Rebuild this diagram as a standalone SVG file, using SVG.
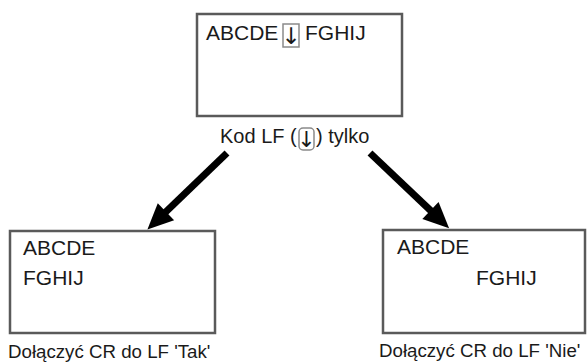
<svg xmlns="http://www.w3.org/2000/svg" width="587" height="363" viewBox="0 0 587 363">
<style>
.box{fill:#fff;stroke:#5a5a5a;stroke-width:2.5}
.t{font-family:"Liberation Sans",Arial,sans-serif;font-size:21px;fill:#1a1a1a}
.lbl{font-family:"Liberation Sans",Arial,sans-serif;font-size:20px;fill:#1a1a1a}
.cap{font-family:"Liberation Sans",Arial,sans-serif;font-size:18.7px;fill:#1a1a1a}
.sym{font-family:"DejaVu Sans",sans-serif;fill:#1a1a1a;text-anchor:middle}
.symbox{fill:none;stroke:#8a8a8a;stroke-width:1.5}
.conn{stroke:#000;stroke-width:7;fill:none}
</style>
<defs>
<marker id="ah" markerUnits="userSpaceOnUse" markerWidth="30" markerHeight="30" refX="0" refY="0" viewBox="-3 -13 28 26" orient="auto">
<path d="M-2,-11 L22,0 L-2,11 z" fill="#000"/>
</marker>
</defs>
<g id="source">
<rect class="box" x="197" y="14" width="205" height="102"/>
<text class="t" x="206" y="40">ABCDE</text>
<rect class="symbox" x="283" y="24" width="16" height="23"/>
<text class="sym" x="291" y="44" font-size="23">↓</text>
<text class="t" x="305" y="40">FGHIJ</text>
</g>
<g id="source-label">
<text class="lbl" x="220" y="143">Kod LF (</text>
<rect class="symbox" x="299" y="128" width="15" height="22" rx="4"/>
<text class="sym" x="306.5" y="147" font-size="22">↓</text>
<text class="lbl" x="316" y="143">) tylko</text>
</g>
<g id="result-yes">
<rect class="box" x="10" y="231" width="205" height="102"/>
<text class="t" x="23" y="255">ABCDE</text>
<text class="t" x="23" y="285">FGHIJ</text>
<text class="cap" x="8" y="358">Dołączyć CR do LF 'Tak'</text>
</g>
<g id="result-no">
<rect class="box" x="383" y="230" width="202" height="103"/>
<text class="t" x="397" y="254">ABCDE</text>
<text class="t" x="476" y="285">FGHIJ</text>
<text class="cap" x="379" y="357">Dołączyć CR do LF 'Nie'</text>
</g>
<g id="connectors">
<line class="conn" x1="227" y1="153" x2="164.4" y2="213.2" marker-end="url(#ah)"/>
<line class="conn" x1="370" y1="153" x2="432" y2="211.9" marker-end="url(#ah)"/>
</g>
</svg>
